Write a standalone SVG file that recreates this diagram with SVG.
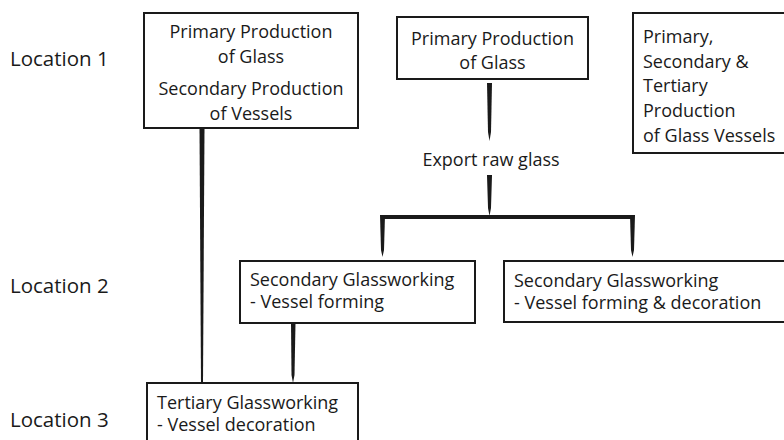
<svg xmlns="http://www.w3.org/2000/svg" width="784" height="440" viewBox="0 0 784 440">
<style>
  .box { fill: #fff; stroke: #1a1a1a; stroke-width: 2; }
  text { font-family: "Open Sans", "Noto Sans", sans-serif; font-size: 18px; fill: #1a1a1a; }
  .loc { font-size: 20.5px; }
  .c { text-anchor: middle; }
  .conn { fill: #1a1a1a; stroke: none; }
</style>
<rect width="784" height="440" fill="#fff"/>
<g id="labels">
  <text class="loc" x="10" y="66">Location 1</text>
  <text class="loc" x="10" y="293">Location 2</text>
  <text class="loc" x="10" y="427">Location 3</text>
</g>
<g id="connectors">
  <polygon class="conn" points="199.5,128 204.5,128 203,383 201,383"/>
  <polygon class="conn" points="487,83 492,83 491,132 489.5,141 488,132"/>
  <polygon class="conn" points="487,175 492,175 491,208 489.5,216 488,208"/>
  <rect class="conn" x="381" y="215" width="253" height="4"/>
  <polygon class="conn" points="380,215 385,215 384,250 382.5,257 381,250"/>
  <polygon class="conn" points="630,215 635,215 634,250 632.5,257 631,250"/>
  <polygon class="conn" points="291,323 295.5,323 294.5,375 293,383 291.5,375"/>
</g>
<g id="node-primary-secondary-loc1">
  <rect class="box" x="144" y="13" width="214" height="115"/>
  <text class="c" x="251" y="38">Primary Production</text>
  <text class="c" x="251" y="63">of Glass</text>
  <text class="c" x="251" y="95">Secondary Production</text>
  <text class="c" x="251" y="120">of Vessels</text>
</g>
<g id="node-primary-glass">
  <rect class="box" x="397" y="17" width="191" height="62"/>
  <text class="c" x="492.5" y="45">Primary Production</text>
  <text class="c" x="492.5" y="69">of Glass</text>
</g>
<g id="node-all-production">
  <rect class="box" x="633" y="13" width="160" height="140"/>
  <text x="643" y="43">Primary,</text>
  <text x="643" y="68">Secondary &amp;</text>
  <text x="643" y="92">Tertiary</text>
  <text x="643" y="117">Production</text>
  <text x="643" y="142">of Glass Vessels</text>
</g>
<g id="node-export">
  <text class="c" x="491" y="166">Export raw glass</text>
</g>
<g id="node-secondary-forming">
  <rect class="box" x="240" y="261" width="235" height="62"/>
  <text x="250" y="286">Secondary Glassworking</text>
  <text x="250" y="308">- Vessel forming</text>
</g>
<g id="node-secondary-forming-decoration">
  <rect class="box" x="504" y="261" width="290" height="61"/>
  <text x="514" y="287">Secondary Glassworking</text>
  <text x="514" y="309">- Vessel forming &amp; decoration</text>
</g>
<g id="node-tertiary">
  <rect class="box" x="147" y="383" width="211" height="70"/>
  <text x="157" y="409">Tertiary Glassworking</text>
  <text x="157" y="431">- Vessel decoration</text>
</g>
</svg>
